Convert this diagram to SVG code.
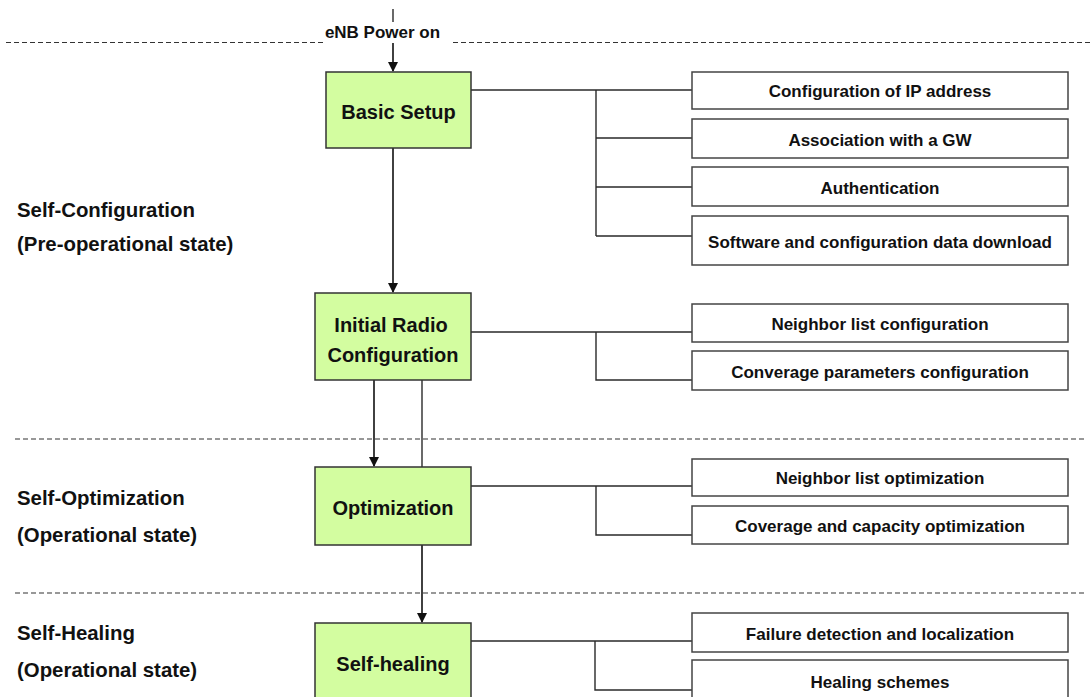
<svg xmlns="http://www.w3.org/2000/svg" width="1091" height="697" viewBox="0 0 1091 697">
<defs>
<marker id="ah" markerWidth="10" markerHeight="11" refX="9" refY="5" orient="auto" markerUnits="userSpaceOnUse">
<path d="M0,0 L10,5 L0,10 z" fill="#111"/>
</marker>
<style>
text{font-family:"Liberation Sans",Arial,sans-serif;font-weight:bold;fill:#111}
.g rect{fill:#d3fda0;stroke:#333;stroke-width:1.5}
.g text{font-size:20px;text-anchor:middle}
.w rect{fill:#fff;stroke:#444;stroke-width:1.5}
.w text{font-size:17px;text-anchor:middle}
.lab{font-size:20.4px}
.dash{stroke:#333;stroke-width:1.2;stroke-dasharray:5 3;fill:none}
.c{stroke:#2a2a2a;stroke-width:1.4;fill:none}
.a{stroke:#111;stroke-width:1.6;fill:none;marker-end:url(#ah)}
</style>
</defs>
<rect width="1091" height="697" fill="#fff"/>
<g id="separators">
<line class="dash" x1="6" y1="42.5" x2="323" y2="42.5"/>
<line class="dash" x1="453" y1="42.5" x2="1091" y2="42.5"/>
<line class="dash" x1="15" y1="439" x2="1085" y2="439"/>
<line class="dash" x1="15" y1="593" x2="1085" y2="593"/>
</g>
<g id="phase-labels">
<text class="lab" x="17" y="217">Self-Configuration</text>
<text class="lab" x="17" y="251">(Pre-operational state)</text>
<text class="lab" x="17" y="505">Self-Optimization</text>
<text class="lab" x="17" y="542">(Operational state)</text>
<text class="lab" x="17" y="640">Self-Healing</text>
<text class="lab" x="17" y="677">(Operational state)</text>
</g>
<g id="connectors">
<line class="c" x1="393" y1="9" x2="393" y2="22"/>
<line class="a" x1="393" y1="43" x2="393" y2="71"/>
<line class="a" x1="393" y1="148" x2="393" y2="292"/>
<line class="a" x1="374" y1="380" x2="374" y2="466"/>
<line class="c" x1="422" y1="380" x2="422" y2="467"/>
<line class="a" x1="422" y1="545" x2="422" y2="622"/>
<path class="c" d="M471,90 H692 M596,90 V236 M596,138 H692 M596,187 H692 M596,236 H692"/>
<path class="c" d="M471,332 H692 M596,332 V380 H692"/>
<path class="c" d="M471,486 H692 M596,486 V535 H692"/>
<path class="c" d="M471,641 H692 M595,641 V690 H692"/>
</g>
<g id="enb-power-on"><text x="382.5" y="38" style="font-size:17px;text-anchor:middle">eNB Power on</text></g>
<g id="basic-setup" class="g"><rect x="326" y="72" width="145" height="76"/><text x="398.5" y="119">Basic Setup</text></g>
<g id="initial-radio" class="g"><rect x="315" y="293" width="156" height="87"/><text x="391" y="332">Initial Radio</text><text x="393" y="362">Configuration</text></g>
<g id="optimization" class="g"><rect x="315" y="467" width="156" height="78"/><text x="393" y="515">Optimization</text></g>
<g id="self-healing" class="g"><rect x="315" y="623" width="156" height="90"/><text x="393" y="671">Self-healing</text></g>
<g id="ip-config" class="w"><rect x="692" y="72" width="376" height="37"/><text x="880" y="97">Configuration of IP address</text></g>
<g id="gw-assoc" class="w"><rect x="692" y="119" width="376" height="39"/><text x="880" y="146">Association with a GW</text></g>
<g id="authentication" class="w"><rect x="692" y="167" width="376" height="39"/><text x="880" y="194">Authentication</text></g>
<g id="sw-download" class="w"><rect x="692" y="216" width="376" height="49"/><text x="880" y="248">Software and configuration data download</text></g>
<g id="neighbor-config" class="w"><rect x="692" y="304" width="376" height="38"/><text x="880" y="330">Neighbor list configuration</text></g>
<g id="coverage-config" class="w"><rect x="692" y="351" width="376" height="39"/><text x="880" y="378">Converage parameters configuration</text></g>
<g id="neighbor-opt" class="w"><rect x="692" y="459" width="376" height="37"/><text x="880" y="484">Neighbor list optimization</text></g>
<g id="coverage-opt" class="w"><rect x="692" y="506" width="376" height="38"/><text x="880" y="532">Coverage and capacity optimization</text></g>
<g id="failure-detection" class="w"><rect x="692" y="613" width="376" height="39"/><text x="880" y="640">Failure detection and localization</text></g>
<g id="healing-schemes" class="w"><rect x="692" y="660" width="376" height="50"/><text x="880" y="688">Healing schemes</text></g>
</svg>
